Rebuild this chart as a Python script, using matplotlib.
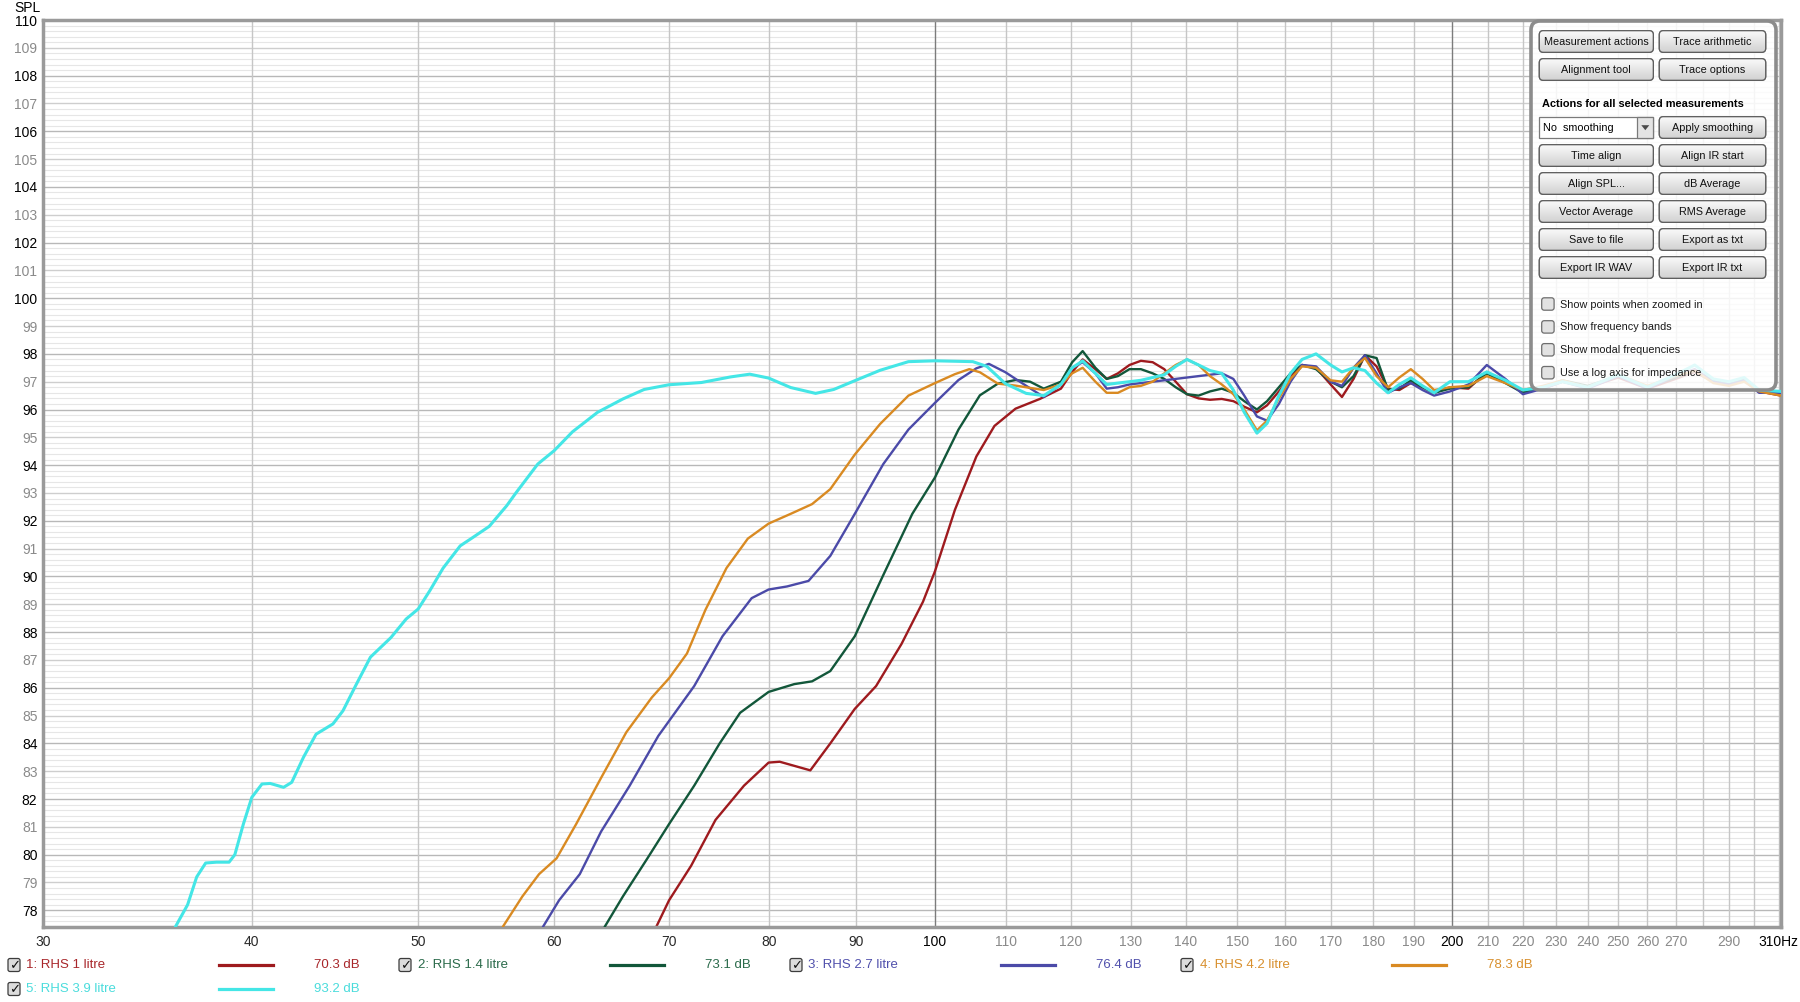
import numpy as np
import matplotlib
matplotlib.use("Agg")
import matplotlib.pyplot as plt
from matplotlib.patches import FancyBboxPatch, Rectangle, Polygon
from matplotlib.colors import LinearSegmentedColormap
from matplotlib.ticker import NullLocator

# ---- data (Hz, dB SPL) ----
red_freq = [68.8, 70.0, 72.1, 74.5, 77.4, 80.0, 81.2, 84.6, 86.9, 89.8, 92.4, 95.6, 98.4, 100.0,
            102.7, 105.7, 108.3, 111.4, 115.1, 118.4, 120.2, 121.9, 124.0, 125.9, 127.8, 129.8,
            131.8, 133.9, 136.0, 138.1, 140.2, 142.4, 144.6, 146.9, 149.2, 151.4, 154.0, 156.1,
            158.6, 161.1, 163.6, 166.7, 170.0, 172.6, 175.3, 178.0, 180.8, 183.6, 186.4, 189.3,
            192.3, 195.3, 199.5, 204.5, 209.6, 214.9, 220.0]
red_spl = [77.4, 78.36, 79.6, 81.25, 82.48, 83.31, 83.34, 83.03, 84.0, 85.24, 86.06, 87.57, 89.09,
           90.19, 92.39, 94.31, 95.41, 96.03, 96.38, 96.75, 97.35, 97.8, 97.45, 97.1, 97.3, 97.6,
           97.75, 97.7, 97.45, 97.0, 96.55, 96.4, 96.35, 96.38, 96.3, 96.1, 95.9, 96.15, 96.65,
           97.2, 97.6, 97.5, 96.9, 96.45, 97.1, 97.95, 97.55, 96.75, 96.7, 96.95, 96.8, 96.6,
           96.8, 96.75, 97.35, 97.0, 96.65]

green_freq = [64.2, 65.8, 68.0, 70.0, 72.4, 74.9, 77.0, 80.0, 82.8, 84.8, 86.9, 89.8, 93.3, 97.0,
              100.0, 103.2, 106.2, 108.8, 111.4, 113.6, 115.7, 118.4, 120.2, 121.9, 124.0, 125.9,
              127.8, 129.8, 131.8, 133.9, 136.0, 138.1, 140.2, 142.4, 144.6, 146.9, 149.2, 151.4,
              154.0, 156.1, 158.6, 161.1, 163.6, 166.7, 170.0, 172.6, 175.3, 178.0, 180.8, 183.6,
              186.4, 189.3, 192.3, 195.3, 199.5, 204.5, 209.6, 214.9, 220.0]
green_spl = [77.4, 78.5, 79.87, 81.1, 82.48, 83.99, 85.1, 85.85, 86.13, 86.23, 86.6, 87.85, 90.05,
             92.25, 93.56, 95.28, 96.51, 96.93, 97.06, 97.0, 96.75, 97.0, 97.7, 98.1, 97.5, 97.1,
             97.2, 97.45, 97.45, 97.3, 97.1, 96.8, 96.55, 96.5, 96.65, 96.75, 96.6, 96.3, 96.0,
             96.3, 96.8, 97.3, 97.6, 97.45, 97.0, 96.8, 97.2, 97.95, 97.85, 96.7, 96.75, 97.05,
             96.8, 96.6, 96.75, 96.8, 97.3, 96.95, 96.6]

blue_freq = [59.1, 60.4, 62.1, 63.9, 66.4, 69.0, 72.4, 75.2, 78.2, 80.0, 82.0, 84.4, 86.9, 89.8,
             93.3, 96.5, 100.0, 103.2, 105.7, 107.5, 109.9, 112.5, 115.7, 118.4, 120.2, 121.9,
             124.0, 125.9, 127.8, 129.8, 131.8, 133.9, 136.0, 138.1, 140.2, 142.4, 144.6, 146.9,
             149.2, 151.4, 154.0, 156.1, 158.6, 161.1, 163.6, 166.7, 170.0, 172.6, 175.3, 178.0,
             180.8, 183.6, 186.4, 189.3, 192.3, 195.3, 199.5, 204.5, 209.6, 214.9, 220.0]
blue_spl = [77.4, 78.36, 79.3, 80.83, 82.48, 84.27, 86.06, 87.85, 89.22, 89.53, 89.64, 89.84, 90.74,
            92.25, 94.04, 95.28, 96.24, 97.06, 97.48, 97.64, 97.34, 96.93, 96.45, 96.9, 97.5, 97.7,
            97.3, 96.75, 96.8, 96.9, 96.95, 97.0, 97.05, 97.1, 97.15, 97.2, 97.25, 97.3, 97.1,
            96.5, 95.75, 95.6, 96.2, 97.0, 97.6, 97.55, 97.0, 96.85, 97.5, 97.95, 97.3, 96.6,
            96.8, 96.95, 96.7, 96.5, 96.65, 96.9, 97.6, 97.1, 96.55]

orange_freq = [56.0, 57.5, 58.8, 60.2, 61.8, 63.9, 66.1, 68.4, 70.0, 71.7, 73.5, 75.6, 77.8, 80.0,
               82.4, 84.8, 86.9, 89.8, 92.9, 96.5, 100.0, 102.7, 104.7, 106.2, 108.8, 111.4, 115.7,
               118.4, 120.2, 121.9, 124.0, 125.9, 127.8, 129.8, 131.8, 133.9, 136.0, 138.1, 140.2,
               142.4, 144.6, 146.9, 149.2, 151.4, 154.0, 156.1, 158.6, 161.1, 163.6, 166.7, 170.0,
               172.6, 175.3, 178.0, 180.8, 183.6, 186.4, 189.3, 192.3, 195.3, 199.5, 204.5, 209.6,
               214.9, 220.0]
orange_spl = [77.4, 78.5, 79.3, 79.87, 81.1, 82.76, 84.4, 85.65, 86.34, 87.23, 88.8, 90.3, 91.36,
              91.9, 92.25, 92.6, 93.14, 94.38, 95.48, 96.5, 96.95, 97.27, 97.45, 97.34, 96.93, 96.86,
              96.7, 96.9, 97.3, 97.5, 97.0, 96.6, 96.6, 96.8, 96.85, 97.0, 97.3, 97.6, 97.8, 97.6,
              97.2, 96.9, 96.55, 96.0, 95.25, 95.6, 96.4, 97.1, 97.55, 97.5, 97.05, 97.0, 97.5,
              97.85, 97.2, 96.8, 97.15, 97.45, 97.1, 96.7, 96.8, 96.85, 97.2, 96.95, 96.7]

cyan_freq = [36.1, 36.7, 37.15, 37.6, 38.15, 38.8, 39.1, 39.55, 40.0, 40.55, 41.0, 41.74, 42.2,
             42.87, 43.6, 44.6, 45.2, 46.0, 46.9, 48.2, 49.2, 50.0, 50.8, 51.7, 52.9, 53.8, 55.0,
             56.3, 57.0, 58.7, 60.0, 61.5, 63.6, 65.8, 67.7, 70.0, 73.1, 76.0, 78.0, 80.0, 82.4,
             85.2, 87.3, 90.0, 92.9, 96.5, 100.0, 105.2, 107.2, 109.9, 113.0, 115.7, 118.4, 120.2,
             121.9, 124.0, 125.9, 127.8, 129.8, 131.8, 133.9, 136.0, 138.1, 140.2, 142.4, 144.6,
             146.9, 149.2, 151.4, 154.0, 156.1, 158.6, 161.1, 163.6, 166.7, 170.0, 172.6, 175.3,
             178.0, 180.8, 183.6, 186.4, 189.3, 192.3, 195.3, 199.5, 204.5, 209.6, 214.9, 220.0]
cyan_spl = [77.4, 78.2, 79.2, 79.7, 79.73, 79.73, 80.0, 81.1, 82.06, 82.54, 82.56, 82.42, 82.6,
            83.5, 84.33, 84.7, 85.17, 86.1, 87.1, 87.8, 88.47, 88.83, 89.5, 90.3, 91.1, 91.4, 91.8,
            92.54, 93.0, 94.04, 94.52, 95.2, 95.9, 96.38, 96.72, 96.89, 96.97, 97.17, 97.27, 97.13,
            96.79, 96.58, 96.72, 97.06, 97.41, 97.72, 97.75, 97.72, 97.55, 96.93, 96.58, 96.5,
            96.9, 97.5, 97.75, 97.3, 96.9, 96.95, 97.0, 97.05, 97.15, 97.25, 97.55, 97.8, 97.6,
            97.4, 97.3, 96.7, 95.9, 95.15, 95.5, 96.5, 97.3, 97.8, 98.0, 97.6, 97.35, 97.5, 97.4,
            96.95, 96.6, 96.9, 97.14, 96.85, 96.6, 97.0, 97.0, 97.35, 97.05, 96.7]

# top end, mostly hidden behind the control panel
tail_freq = [226, 232, 240, 250, 260, 270, 277, 284, 290, 296, 302, 311]
red_tail = [96.75, 97.0, 96.8, 97.15, 96.75, 97.1, 97.35, 97.0, 96.9, 97.05, 96.65, 96.5]
green_tail = [96.8, 97.05, 96.85, 97.2, 96.8, 97.15, 97.4, 97.05, 96.95, 97.1, 96.7, 96.6]
blue_tail = [96.75, 97.0, 96.75, 97.2, 96.75, 97.2, 97.45, 97.0, 96.9, 97.05, 96.6, 96.6]
orange_tail = [96.85, 97.05, 96.8, 97.25, 96.85, 97.2, 97.4, 96.95, 96.85, 97.0, 96.65, 96.5]
cyan_tail = [96.8, 97.0, 96.8, 97.25, 96.8, 97.25, 97.6, 97.1, 97.0, 97.15, 96.7, 96.65]

names = ["1: RHS 1 litre", "2: RHS 1.4 litre", "3: RHS 2.7 litre", "4: RHS 4.2 litre", "5: RHS 3.9 litre"]
levels = ["70.3 dB", "73.1 dB", "76.4 dB", "78.3 dB", "93.2 dB"]
line_colors = ["#9e1a1e", "#12573a", "#4b4aa8", "#d98a22", "#44e6e6"]
text_colors = ["#a8262a", "#2a6a4a", "#5050ac", "#d8902e", "#4adcdc"]

f_lo, f_hi = 30.23, 311.0
xtick_pos = [f_lo, 40, 50, 60, 70, 80, 90, 100, 110, 120, 130, 140, 150, 160, 170, 180, 190, 200,
             210, 220, 230, 240, 250, 260, 270, 290, 310]
xtick_lab = ["30", "40", "50", "60", "70", "80", "90", "100", "110", "120", "130", "140", "150",
             "160", "170", "180", "190", "200", "210", "220", "230", "240", "250", "260", "270",
             "290", "310Hz"]
ytick_pos = list(range(78, 111))

buttons_left = ["Measurement actions", "Alignment tool", None, "Time align", "Align SPL...",
                "Vector Average", "Save to file", "Export IR WAV"]
buttons_right = ["Trace arithmetic", "Trace options", "Apply smoothing", "Align IR start",
                 "dB Average", "RMS Average", "Export as txt", "Export IR txt"]
options = ["Show points when zoomed in", "Show frequency bands", "Show modal frequencies",
           "Use a log axis for impedance"]

narrow = ['Liberation Sans Narrow', 'DejaVu Sans Condensed', 'Liberation Sans']
arial = ['Liberation Sans', 'DejaVu Sans']

W, H = 1800, 1002
L, R, T, B = 43, 1781, 20, 927

fig = plt.figure(figsize=(18, 10.02), dpi=100)
fig.patch.set_facecolor("white")
ax = fig.add_axes([L / W, 1 - B / H, (R - L) / W, (B - T) / H])
ax.set_xscale('log')
ax.set_xlim(f_lo, f_hi)
ax.set_ylim(77.4, 110)

# grid
for v in np.arange(77.6, 110.0, 0.2):
    if abs(v - round(v)) > 0.05:
        ax.axhline(v, color='#e6e6e6', lw=0.8, zorder=0)
for v in ytick_pos:
    ax.axhline(v, color='#b8b8b8' if v % 2 == 0 else '#cecece', lw=1.0, zorder=0.5)
for f in range(40, 311, 10):
    ax.axvline(f, color='#7c7c7c' if f in (100, 200) else '#c6c6c6', lw=1.0, zorder=0.6)

curves = [(red_freq + tail_freq, red_spl + red_tail, 1.7),
          (green_freq + tail_freq, green_spl + green_tail, 1.7),
          (blue_freq + tail_freq, blue_spl + blue_tail, 1.7),
          (orange_freq + tail_freq, orange_spl + orange_tail, 1.7),
          (cyan_freq + tail_freq, cyan_spl + cyan_tail, 2.2)]
for i, (fq, spl, lw) in enumerate(curves):
    ax.plot(fq, spl, color=line_colors[i], lw=lw, zorder=2 + i,
            solid_capstyle='round', solid_joinstyle='round')

ax.xaxis.set_minor_locator(NullLocator())
ax.set_xticks(xtick_pos)
ax.set_xticklabels(xtick_lab, fontfamily=narrow, fontsize=10)
ax.set_yticks(ytick_pos)
ax.set_yticklabels([str(v) for v in ytick_pos], fontfamily=narrow, fontsize=10)
ax.tick_params(axis='x', length=0, pad=6)
ax.tick_params(axis='y', length=0, pad=4)
for lab, v in zip(ax.get_xticklabels(), xtick_pos):
    lab.set_color('#000000' if v in (100, 200, 310) else ('#2a2a2a' if v < 100 else '#8a8a8a'))
for lab, v in zip(ax.get_yticklabels(), ytick_pos):
    lab.set_color('#000000' if v % 2 == 0 else '#8a8a8a')
for s in ax.spines.values():
    s.set_color('#9a9a9a')
    s.set_linewidth(2.5)

# overlay in pixel coordinates for the UI parts
ui = fig.add_axes([0, 0, 1, 1], zorder=5)
ui.set_xlim(0, W)
ui.set_ylim(H, 0)
ui.axis('off')
ui.patch.set_alpha(0)

ui.text(27, 8, "SPL", ha='center', va='center', fontsize=10, family=narrow)

grad_cmap = LinearSegmentedColormap.from_list("btn", ["#fbfbfb", "#d2d2d2"])
grad = np.linspace(0, 1, 32).reshape(-1, 1)


def button(x, y, w, h, label):
    p = FancyBboxPatch((x, y), w, h, boxstyle='round,pad=0,rounding_size=4',
                       fc='#e6e6e6', ec='#5e5e5e', lw=0.9, zorder=7)
    ui.add_patch(p)
    im = ui.imshow(grad, extent=(x, x + w, y + h, y), cmap=grad_cmap, aspect='auto', zorder=7.5)
    im.set_clip_path(p)
    ui.add_patch(FancyBboxPatch((x, y), w, h, boxstyle='round,pad=0,rounding_size=4',
                                fc='none', ec='#5e5e5e', lw=0.9, zorder=8))
    if label:
        ui.text(x + w / 2, y + h / 2 + 0.5, label, ha='center', va='center', fontsize=7.8,
                family=arial, color='#111111', zorder=9)


# control panel
ui.add_patch(FancyBboxPatch((1531, 21), 245, 369, boxstyle='round,pad=0,rounding_size=9',
                            fc=(1, 1, 1, 0.84), ec='#8c8c8c', lw=2.6, zorder=6))
row_y = [30.7, 58.7, 116.7, 144.7, 172.7, 200.7, 228.7, 256.7]
for yy, lt, rt in zip(row_y, buttons_left, buttons_right):
    if lt is not None:
        button(1539.3, yy, 114, 21.6, lt)
    button(1659.3, yy, 106.4, 21.6, rt)

ui.text(1541.7, 104, "Actions for all selected measurements", fontsize=7.9, weight='bold',
        family=arial, va='center', ha='left', zorder=9)

# smoothing combo box
ui.add_patch(Rectangle((1539.3, 116.7), 114, 21.6, fc='white', ec='#7a7a7a', lw=0.9, zorder=7))
ui.text(1543, 127.9, "No  smoothing", fontsize=7.8, family=arial, va='center', ha='left', zorder=9)
ui.add_patch(Rectangle((1637.3, 116.7), 16, 21.6, fc='#e4e4e4', ec='#7a7a7a', lw=0.9, zorder=7.2))
ui.add_patch(Polygon([(1641.3, 125.2), (1649.3, 125.2), (1645.3, 130.2)], closed=True,
                     fc='#4a4a4a', ec='none', zorder=9))

for k, txt in enumerate(options):
    cy = 304 + k * 22.9
    ui.add_patch(FancyBboxPatch((1541.7, cy - 6.2), 12.4, 12.4, boxstyle='round,pad=0,rounding_size=2.5',
                                fc='#e2e2e2', ec='#6e6e6e', lw=0.9, zorder=8))
    ui.text(1560, cy + 0.5, txt, fontsize=7.8, family=arial, va='center', ha='left',
            color='#1a1a1a', zorder=9)

# measurement legend
for i in range(5):
    col, row = i % 4, i // 4
    x0 = 8 + col * 391
    y = 965 + row * 24
    ui.add_patch(FancyBboxPatch((x0, y - 6.5), 12, 13, boxstyle='round,pad=0,rounding_size=2',
                                fc='#dcdcdc', ec='#3c3c3c', lw=0.9, zorder=8))
    ui.text(x0 + 6.3, y + 0.3, "\u2713", ha='center', va='center', fontsize=9.5, weight='bold',
            family=['DejaVu Sans'], color='#111111', zorder=9)
    ui.text(x0 + 18.5, y + 0.5, names[i], ha='left', va='center', fontsize=9.5, family=narrow,
            color=text_colors[i], zorder=9)
    ui.plot([x0 + 210.5, x0 + 264.5], [y, y], color=line_colors[i], lw=2.3, zorder=9)
    ui.text(x0 + 352, y + 0.5, levels[i], ha='right', va='center', fontsize=9.5, family=narrow,
            color=text_colors[i], zorder=9)

ui.set_xlim(0, W)
ui.set_ylim(H, 0)

fig.savefig("out.png", dpi=100, facecolor="white")
